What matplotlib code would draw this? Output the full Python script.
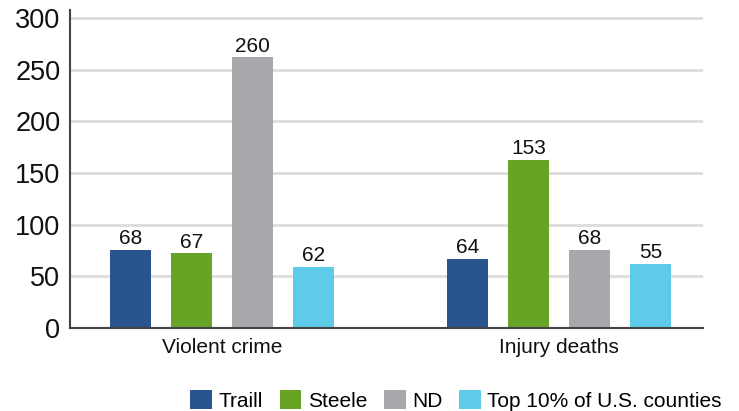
import numpy as np
import matplotlib.pyplot as plt

plt.rcParams['font.family'] = ['Liberation Sans', 'DejaVu Sans']

categories = ['Violent crime', 'Injury deaths']
series = ['Traill', 'Steele', 'ND', 'Top 10% of U.S. counties']
colors = ['#2a548e', '#67a426', '#a8a9ad', '#5ecbe8']

# bar heights as drawn in the chart
heights = {
    'Traill': [75.5, 66.8],
    'Steele': [72.3, 163],
    'ND': [262, 75.5],
    'Top 10% of U.S. counties': [59.3, 62],
}
# printed value labels
labels = {
    'Traill': ['68', '64'],
    'Steele': ['67', '153'],
    'ND': ['260', '68'],
    'Top 10% of U.S. counties': ['62', '55'],
}

fig = plt.figure(figsize=(7.39, 4.11), dpi=100)
ax = fig.add_axes([0.0947, 0.202, 0.8563, 0.7737])

x = np.arange(len(categories))
width = 0.1217
pitch = 0.181
for i, name in enumerate(series):
    pos = x + (i - 1.5) * pitch
    bars = ax.bar(pos, heights[name], width, color=colors[i], label=name, zorder=3)
    for b, lab in zip(bars, labels[name]):
        ax.text(b.get_x() + b.get_width() / 2, b.get_height() + 1.5, lab,
                ha='center', va='bottom', fontsize=15, color='#111111')

ax.set_xlim(-0.451, 1.427)
ax.set_ylim(0, 307.7)
ax.set_yticks([0, 50, 100, 150, 200, 250, 300])
ax.set_xticks(x)
ax.set_xticklabels(categories, fontsize=15)
ax.tick_params(axis='y', length=0, pad=7, labelsize=19.5, labelcolor='#111111')
ax.tick_params(axis='x', length=0, pad=7, labelcolor='#111111')
ax.grid(axis='y', color='#dcdcdc', linewidth=2, zorder=0)
for s in ['top', 'right']:
    ax.spines[s].set_visible(False)
for s in ['left', 'bottom']:
    ax.spines[s].set_color('#444444')
    ax.spines[s].set_linewidth(1.5)
    ax.spines[s].set_zorder(4)

fig.legend(loc='center', bbox_to_anchor=(0.617, 0.026), ncol=4, frameon=False,
           fontsize=15, handlelength=1.05, handleheight=1.05, handletextpad=0.3,
           columnspacing=0.8, borderaxespad=0)

fig.savefig('out.png', dpi=100)
